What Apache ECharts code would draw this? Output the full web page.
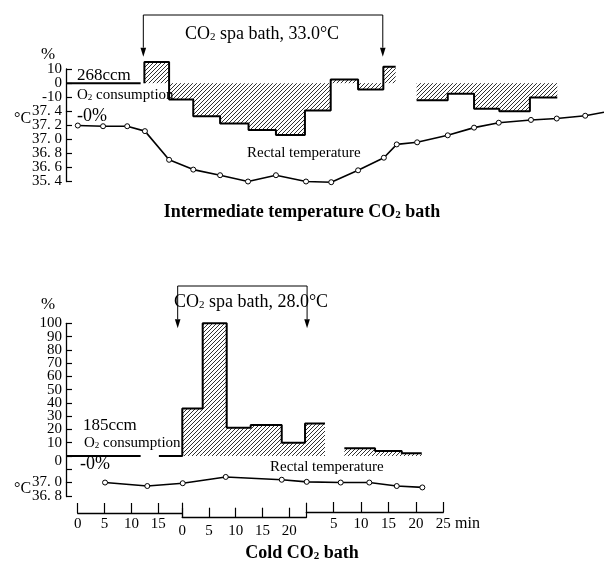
<!DOCTYPE html>
<html><head><meta charset="utf-8">
<script src="https://cdn.jsdelivr.net/npm/echarts@6/dist/echarts.min.js"></script>
<style>html,body{margin:0;padding:0;background:#fff}#c{width:604px;height:569px}</style>
</head><body><div id="c"></div>
<script>
// ---------- DATA (time in minutes from start of record) ----------
// Upper panel: intermediate temperature CO2 bath (33.0 °C)
const topBaseline = [-2.2, 11.7];                       // 0 % line (268 ccm)
const topBarEdgesA = [12.4, 17.0, 21.5, 26.5, 31.8, 36.9, 42.3, 47.1, 52.2, 56.9, 59.2];
const topBarValuesA = [15, -11.6, -23.3, -28.4, -33.1, -36.6, -19.3, 2.6, -4.5, 11.6];
const topBarEdgesB = [63.1, 68.9, 73.8, 78.5, 84.2, 89.3];
const topBarValuesB = [-12.1, -7.4, -18.1, -19.8, -10.2];
const topTempTime = [0, 4.7, 9.2, 12.5, 17.0, 21.5, 26.5, 31.7, 36.9, 42.5, 47.2, 52.2, 57.0, 59.4, 63.2, 68.9, 73.8, 78.4, 84.4, 89.2, 94.5, 98.0];
const topTempValue = [37.2, 37.19, 37.19, 37.12, 36.71, 36.57, 36.49, 36.40, 36.49, 36.40, 36.39, 36.56, 36.74, 36.93, 36.96, 37.06, 37.17, 37.24, 37.28, 37.30, 37.34, 37.39];
const topBath = [12.2, 56.8];
const topO2Range = [-20, 10];
const topTempRange = [36.4, 37.4];
const topTempTickLabels = ['35. 4', '36. 6', '36. 8', '37. 0', '37. 2', '37. 4'];

// Lower panel: cold CO2 bath (28.0 °C)
const bottomBaseline = [-2.2, 11.7];                    // 0 % line (185 ccm)
const bottomBarEdgesA = [15.1, 19.46, 23.26, 27.73, 32.2, 37.98, 42.32, 46.04];
const bottomBarValuesA = [0, 35.8, 100, 21.3, 23.3, 10, 24.5];
const bottomBarEdgesB = [49.64, 55.36, 60.33, 64.05];
const bottomBarValuesB = [5.8, 3.8, 2.0];
const bottomTempTime = [5.07, 12.94, 19.54, 27.55, 37.98, 42.63, 48.96, 54.29, 59.4, 64.17];
const bottomTempValue = [37.00, 36.95, 36.99, 37.08, 37.04, 37.01, 37.00, 37.00, 36.95, 36.93];
const bottomBath = [18.6, 42.7];
const bottomO2Range = [-20, 100];
const bottomTempRange = [36.8, 37.0];
const bottomTempTickLabels = ['36. 8', '37. 0'];

// Phase time axes (minutes within each phase)
const phasePreLength = 19.46;
const phaseBathLength = 23.2;
const phasePostLength = 25;

// ---------- helpers ----------
const FONT = '"Liberation Serif", "Times New Roman", serif';
const EPS = 0.0005;
const pc = document.createElement('canvas');
pc.width = 4; pc.height = 4;
(function () {
  const c = pc.getContext('2d');
  c.strokeStyle = '#1a1a1a'; c.lineWidth = 0.9;
  c.beginPath();
  c.moveTo(0, 4); c.lineTo(4, 0);
  c.moveTo(-1, 1); c.lineTo(1, -1);
  c.moveTo(3, 5); c.lineTo(5, 3);
  c.stroke();
})();
const hatch = { image: pc, repeat: 'repeat' };

function bars(edges, values) {
  return values.map((v, i) => [edges[i], edges[i + 1], v]);
}
function outline(edges, values, fromZero) {
  const pts = fromZero ? [[edges[0], 0]] : [];
  values.forEach((v, i) => pts.push([edges[i], v]));
  pts.push([edges[edges.length - 1], values[values.length - 1]]);
  return pts;
}
function hatchBars(params, api) {
  const a = api.coord([api.value(0), 0]);
  const b = api.coord([api.value(1), api.value(2)]);
  return {
    type: 'rect',
    shape: { x: a[0], y: Math.min(a[1], b[1]), width: b[0] - a[0], height: Math.abs(b[1] - a[1]) },
    style: { fill: hatch, stroke: null }
  };
}
function bracket(yLine, yTip) {
  return function (params, api) {
    const x0 = api.coord([api.value(0), 0])[0];
    const x1 = api.coord([api.value(1), 0])[0];
    const head = 9, hw = 2.8;
    return {
      type: 'group', children: [
        { type: 'polyline', shape: { points: [[x0, yTip - head], [x0, yLine], [x1, yLine], [x1, yTip - head]] }, style: { stroke: '#000', lineWidth: 1, fill: null } },
        { type: 'polygon', shape: { points: [[x0 - hw, yTip - head], [x0 + hw, yTip - head], [x0, yTip]] }, style: { fill: '#000' } },
        { type: 'polygon', shape: { points: [[x1 - hw, yTip - head], [x1 + hw, yTip - head], [x1, yTip]] }, style: { fill: '#000' } }
      ]
    };
  };
}
function tempData(times, values, lastOpen) {
  return times.map((t, i) => (lastOpen && i === times.length - 1) ? { value: [t, values[i]], symbol: 'none' } : [t, values[i]]);
}

const axisLineStyle = { color: '#000', width: 1.3 };
const tickStyle = { color: '#000', width: 1.2 };
function labelStyle(formatter, showMin, showMax) {
  return { color: '#000', fontFamily: FONT, fontSize: 15, margin: 4, formatter: formatter,
    showMinLabel: showMin, showMaxLabel: showMax,
    rich: { z: { fontFamily: FONT, fontSize: 15, color: '#000', padding: [11, 0, 0, 0] } } };
}
// Main value axis: top of extent padded by a hair so the hidden extent end does not suppress the real top label
function yAx(grid, min, max, interval, formatter) {
  return {
    type: 'value', gridIndex: grid, position: 'left', offset: 0, min: min, max: max, interval: interval,
    axisLine: { show: true, onZero: false, lineStyle: axisLineStyle },
    axisTick: { show: true, inside: true, length: 6, lineStyle: tickStyle },
    axisLabel: labelStyle(formatter, false, false),
    splitLine: { show: false }
  };
}
// Companion axis that only carries the bottom tick + label of a temperature scale
function yAxLow(grid, range, formatter) {
  return {
    type: 'value', gridIndex: grid, position: 'left', offset: 0, min: range[0], max: range[1], interval: range[1] - range[0],
    axisLine: { show: false, onZero: false },
    axisTick: { show: true, inside: true, length: 6, lineStyle: tickStyle },
    axisLabel: labelStyle(formatter, true, false),
    splitLine: { show: false }
  };
}
function dataX(grid) {
  return { type: 'value', gridIndex: grid, min: -2.2, max: 98, show: false };
}
function phaseX(grid, max, interval, extra) {
  return Object.assign({
    type: 'value', gridIndex: grid, min: 0, max: max, interval: interval, position: 'bottom',
    axisLine: { show: true, onZero: false, lineStyle: axisLineStyle },
    axisTick: { show: true, inside: true, length: 10, lineStyle: tickStyle },
    axisLabel: { color: '#000', fontFamily: FONT, fontSize: 15, margin: 4 },
    splitLine: { show: false }
  }, extra);
}
function stepLine(xi, pts) {
  return { type: 'line', xAxisIndex: xi, yAxisIndex: xi, data: pts, step: 'end', symbol: 'none', clip: false, silent: true, z: 3,
    lineStyle: { color: '#000', width: 2 } };
}
function tempLine(xi, data) {
  return { type: 'line', xAxisIndex: xi, yAxisIndex: xi, data: data, symbol: 'circle', symbolSize: 5, clip: false, silent: true, z: 4,
    lineStyle: { color: '#000', width: 1.6 }, itemStyle: { color: '#fff', borderColor: '#000', borderWidth: 1 } };
}
function txt(x, y, text, size, align, bold, subSize) {
  const w = bold ? 'bold' : 'normal';
  return { type: 'text', x: x, y: y, silent: true, z: 10,
    style: { text: text, fill: '#000', fontFamily: FONT, fontSize: size, fontWeight: w, align: align, verticalAlign: 'middle',
      rich: {
        m: { fontFamily: FONT, fontSize: size, fontWeight: w, fill: '#000', color: '#000' },
        s: { fontFamily: FONT, fontSize: subSize || Math.round(size * 0.6), fontWeight: w, fill: '#000', color: '#000', verticalAlign: 'bottom' }
      } } };
}
function o2Label(lowestShown, zeroRich) {
  return v => {
    const r = Math.round(v);
    if (r < lowestShown) return '';
    return (zeroRich && r === 0) ? '{z|0}' : String(r);
  };
}
function tempLabel(start, labels, skipFirst) {
  return v => {
    const i = Math.round((v - start) / 0.2);
    if (skipFirst && i === 0) return '';
    return labels[i] || '';
  };
}
function tempLabelLow(start, labels) {
  return v => (Math.abs(v - start) < 1e-6 ? labels[0] : '');
}

const chart = echarts.init(document.getElementById('c'), null, { renderer: 'canvas' });
chart.setOption({
  animation: false,
  backgroundColor: '#fff',
  grid: [
    { left: 66, top: 69, width: 538, height: 42.5 },
    { left: 66, top: 111.5, width: 538, height: 70 },
    { left: 66, top: 323.3, width: 538, height: 159.2 },
    { left: 66, top: 482.5, width: 538, height: 14 },
    { left: 77.7, top: 503, width: 104.6, height: 10 },
    { left: 182.3, top: 507.7, width: 124, height: 10 },
    { left: 306.3, top: 502, width: 137, height: 10 }
  ],
  xAxis: [
    dataX(0), dataX(1), dataX(2), dataX(3),
    phaseX(4, phasePreLength, 5, { axisLabel: { color: '#000', fontFamily: FONT, fontSize: 15, margin: 4, showMaxLabel: false } }),
    phaseX(5, phaseBathLength, 5, { axisLabel: { color: '#000', fontFamily: FONT, fontSize: 15, margin: 6, showMaxLabel: false } }),
    phaseX(5, phaseBathLength, phaseBathLength, { axisLine: { show: false }, axisLabel: { show: false },
      axisTick: { show: true, inside: true, length: 15, lineStyle: tickStyle } }),
    phaseX(6, phasePostLength, 5, { axisLabel: { color: '#000', fontFamily: FONT, fontSize: 15, margin: 5, showMinLabel: false, showMaxLabel: true } })
  ],
  yAxis: [
    yAx(0, topO2Range[0] - EPS, topO2Range[1] + EPS, 10, o2Label(topO2Range[0] + 10, false)),
    yAx(1, topTempRange[0], topTempRange[1] + EPS, 0.2, tempLabel(topTempRange[0], topTempTickLabels, true)),
    yAx(2, bottomO2Range[0] - EPS, bottomO2Range[1] + EPS, 10, o2Label(0, true)),
    yAx(3, bottomTempRange[0], bottomTempRange[1] + EPS, 0.2, tempLabel(bottomTempRange[0], bottomTempTickLabels, true)),
    { type: 'value', gridIndex: 4, show: false, min: 0, max: 1 },
    { type: 'value', gridIndex: 5, show: false, min: 0, max: 1 },
    { type: 'value', gridIndex: 6, show: false, min: 0, max: 1 },
    yAxLow(1, topTempRange, tempLabelLow(topTempRange[0], topTempTickLabels)),
    yAxLow(3, bottomTempRange, tempLabelLow(bottomTempRange[0], bottomTempTickLabels))
  ],
  series: [
    // upper panel
    { type: 'custom', xAxisIndex: 0, yAxisIndex: 0, renderItem: hatchBars, clip: false, silent: true, z: 2,
      data: bars(topBarEdgesA, topBarValuesA).concat(bars(topBarEdgesB, topBarValuesB)) },
    stepLine(0, [[topBaseline[0], 0], [topBaseline[1], 0]]),
    stepLine(0, outline(topBarEdgesA, topBarValuesA, true)),
    stepLine(0, outline(topBarEdgesB, topBarValuesB, false)),
    tempLine(1, tempData(topTempTime, topTempValue, true)),
    { type: 'custom', xAxisIndex: 0, yAxisIndex: 0, renderItem: bracket(15, 56.7), clip: false, silent: true, z: 5, data: [topBath] },
    // lower panel
    { type: 'custom', xAxisIndex: 2, yAxisIndex: 2, renderItem: hatchBars, clip: false, silent: true, z: 2,
      data: bars(bottomBarEdgesA, bottomBarValuesA).concat(bars(bottomBarEdgesB, bottomBarValuesB)) },
    stepLine(2, [[bottomBaseline[0], 0], [bottomBaseline[1], 0]]),
    stepLine(2, outline(bottomBarEdgesA, bottomBarValuesA, false)),
    stepLine(2, outline(bottomBarEdgesB, bottomBarValuesB, false)),
    tempLine(3, tempData(bottomTempTime, bottomTempValue, false)),
    { type: 'custom', xAxisIndex: 2, yAxisIndex: 2, renderItem: bracket(286, 328.3), clip: false, silent: true, z: 5, data: [bottomBath] }
  ],
  graphic: [
    txt(48, 55, '%', 17, 'center'),
    txt(14, 119, '°C', 16, 'left'),
    txt(262, 34, '{m|CO}{s|2}{m| spa bath, 33.0°C}', 18, 'center', false, 11),
    txt(77, 76, '268ccm', 17, 'left'),
    txt(77, 95, '{m|O}{s|2}{m| consumption}', 15, 'left', false, 9),
    txt(77, 116, '-0%', 18, 'left'),
    txt(247, 153, 'Rectal temperature', 15, 'left'),
    txt(302, 212, '{m|Intermediate temperature CO}{s|2}{m| bath}', 18, 'center', true, 11),
    txt(48, 305, '%', 17, 'center'),
    txt(14, 489, '°C', 16, 'left'),
    txt(251, 302, '{m|CO}{s|2}{m| spa bath, 28.0°C}', 18, 'center', false, 11),
    txt(83, 426, '185ccm', 17, 'left'),
    txt(84, 443, '{m|O}{s|2}{m| consumption}', 15, 'left', false, 9),
    txt(80, 464, '-0%', 18, 'left'),
    txt(270, 467, 'Rectal temperature', 15, 'left'),
    txt(455, 524, 'min', 16, 'left'),
    txt(302, 553, '{m|Cold CO}{s|2}{m| bath}', 18, 'center', true, 11)
  ]
});
</script></body></html>
